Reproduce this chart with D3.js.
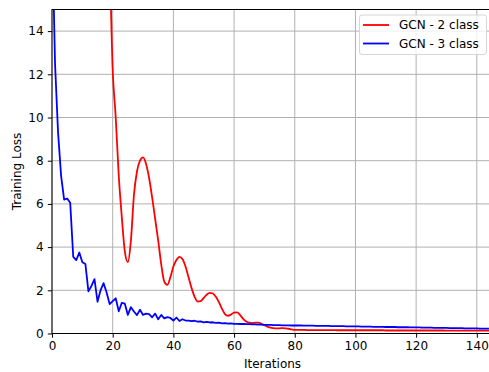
<!DOCTYPE html>
<html lang="en">
<head>
<meta charset="UTF-8">
<title>Training Loss</title>
<script src="https://d3js.org/d3.v7.min.js"></script>
<style>
    body { margin: 0; background: #fff; }
    svg { display: block; font-family: "DejaVu Sans", sans-serif; }
    .tick text { font-size: 12px; fill: #000; }
</style>
</head>
<body>
<svg id="chart" width="489" height="372"></svg>
<script>
// loss per iteration
const gcn2 = [
    95, 80, 70, 62, 56, 50, 46, 42, 39, 36, 33, 31, 29, 27, 25, 23.5, 22, 20.5, 18.5, 17,
    12.2, 10, 7.3, 5.4, 3.8, 3.3, 4.3, 6.4, 7.5, 8.0,
    8.15, 7.85, 7.2, 6.3, 5.3, 4.3, 3.2, 2.4, 2.25, 2.6,
    3.1, 3.4, 3.55, 3.45, 3.1, 2.6, 2.1, 1.7, 1.48, 1.5,
    1.65, 1.8, 1.88, 1.85, 1.7, 1.45, 1.15, 0.9, 0.82, 0.88,
    0.97, 0.98, 0.85, 0.68, 0.56, 0.5, 0.48, 0.5, 0.5, 0.45,
    0.38, 0.32, 0.27, 0.25, 0.24, 0.24, 0.25, 0.24, 0.22, 0.19,
    0.17, 0.17, 0.17, 0.17, 0.16, 0.16, 0.16, 0.16, 0.16, 0.16,
    0.16, 0.16, 0.16, 0.16, 0.15, 0.15, 0.15, 0.15, 0.15, 0.15,
    0.15, 0.15, 0.15, 0.15, 0.15, 0.15, 0.15, 0.15, 0.15, 0.15,
    0.14, 0.14, 0.14, 0.14, 0.14, 0.14, 0.14, 0.14, 0.14, 0.14,
    0.14, 0.14, 0.14, 0.14, 0.14, 0.14, 0.14, 0.14, 0.14, 0.14,
    0.13, 0.13, 0.13, 0.13, 0.13, 0.13, 0.13, 0.13, 0.13, 0.13,
    0.13, 0.13, 0.13, 0.13, 0.13, 0.13, 0.13, 0.13, 0.13, 0.13,
    0.13, 0.13, 0.13, 0.13, 0.13
];
const gcn3 = [
    19, 12.5, 9.3, 7.3, 6.2, 6.25, 6.05, 3.55, 3.4, 3.75,
    3.3, 3.22, 1.95, 2.2, 2.52, 1.47, 2.0, 2.33, 1.9, 1.36,
    1.5, 1.63, 1.03, 1.42, 1.38, 0.86, 1.22, 1.02, 0.85, 1.1,
    0.86, 0.92, 0.9, 0.75, 0.92, 0.66, 0.86, 0.7, 0.76, 0.72,
    0.6, 0.74, 0.58, 0.66, 0.6, 0.6, 0.57, 0.59, 0.55, 0.56,
    0.52, 0.54, 0.51, 0.52, 0.49, 0.5, 0.47, 0.48, 0.46, 0.47,
    0.45, 0.45, 0.44, 0.44, 0.43, 0.43, 0.42, 0.42, 0.41, 0.41,
    0.40, 0.40, 0.40, 0.39, 0.39, 0.39, 0.38, 0.38, 0.38, 0.37,
    0.37, 0.37, 0.37, 0.36, 0.36, 0.36, 0.36, 0.35, 0.35, 0.35,
    0.35, 0.35, 0.34, 0.34, 0.34, 0.34, 0.34, 0.33, 0.33, 0.33,
    0.33, 0.33, 0.32, 0.32, 0.32, 0.32, 0.31, 0.31, 0.31, 0.31,
    0.30, 0.30, 0.30, 0.30, 0.29, 0.29, 0.29, 0.29, 0.28, 0.28,
    0.28, 0.28, 0.27, 0.27, 0.27, 0.27, 0.26, 0.26, 0.26, 0.26,
    0.26, 0.25, 0.25, 0.25, 0.25, 0.25, 0.24, 0.24, 0.24, 0.24,
    0.24, 0.23, 0.23, 0.23, 0.23
];
const seriesNames = ["GCN - 2 class", "GCN - 3 class"];
const seriesColors = ["#ff0000", "#0000ff"];
const xTicks = [0, 20, 40, 60, 80, 100, 120, 140];
const yTicks = [0, 2, 4, 6, 8, 10, 12, 14];

const svg = d3.select("#chart");
const plotLeft = 52, plotTop = 9.5, plotBottom = 333.5, plotRight = 492;

const x = d3.scaleLinear().domain([0, 145]).range([plotLeft, plotRight]);
const y = d3.scaleLinear().domain([0, 15]).range([plotBottom, plotTop]);

svg.append("clipPath").attr("id", "plotclip")
    .append("rect")
    .attr("x", plotLeft).attr("y", plotTop)
    .attr("width", plotRight - plotLeft).attr("height", plotBottom - plotTop);

// grid
svg.append("g").selectAll("line").data(xTicks).join("line")
    .attr("x1", d => x(d)).attr("x2", d => x(d))
    .attr("y1", plotTop).attr("y2", plotBottom)
    .attr("stroke", "#b0b0b0").attr("stroke-width", 1);
svg.append("g").selectAll("line").data(yTicks).join("line")
    .attr("x1", plotLeft).attr("x2", plotRight)
    .attr("y1", d => y(d)).attr("y2", d => y(d))
    .attr("stroke", "#b0b0b0").attr("stroke-width", 1);

// lines
const series = [gcn2, gcn3];
const line = d3.line().x((d, i) => x(i)).y(d => y(d));
const g = svg.append("g").attr("clip-path", "url(#plotclip)");
series.forEach((vals, k) => {
    g.append("path")
        .attr("fill", "none")
        .attr("stroke", seriesColors[k])
        .attr("stroke-width", 1.8)
        .attr("stroke-linejoin", "round")
        .attr("d", line.curve(k === 0 ? d3.curveMonotoneX : d3.curveLinear)(vals));
});

// axes
const xAxis = svg.append("g")
    .attr("transform", `translate(0,${plotBottom})`)
    .call(d3.axisBottom(x).tickValues(xTicks).tickSize(4.2).tickPadding(4.2));
const yAxis = svg.append("g")
    .attr("transform", `translate(${plotLeft},0)`)
    .call(d3.axisLeft(y).tickValues(yTicks).tickSize(4.2).tickPadding(4.2));
[xAxis, yAxis].forEach(a => {
    a.select(".domain").remove();
    a.selectAll(".tick line").attr("stroke", "#000").attr("stroke-width", 1);
    a.selectAll(".tick text").attr("font-family", "DejaVu Sans").attr("font-size", 12);
});

// frame
svg.append("rect")
    .attr("x", plotLeft).attr("y", plotTop)
    .attr("width", plotRight - plotLeft).attr("height", plotBottom - plotTop)
    .attr("fill", "none").attr("stroke", "#000").attr("stroke-width", 1);

// axis labels
svg.append("text")
    .attr("x", (plotLeft + 489) / 2 + 2).attr("y", 368)
    .attr("text-anchor", "middle")
    .attr("font-size", 12)
    .text("Iterations");
svg.append("text")
    .attr("transform", `translate(21,${(plotTop + plotBottom) / 2}) rotate(-90)`)
    .attr("text-anchor", "middle")
    .attr("font-size", 12)
    .text("Training Loss");

// legend
const lg = svg.append("g");
lg.append("rect")
    .attr("x", 359.5).attr("y", 15).attr("width", 127).attr("height", 39.5)
    .attr("rx", 2.5)
    .attr("fill", "#fff").attr("fill-opacity", 0.8)
    .attr("stroke", "#d6d6d6").attr("stroke-width", 1);
seriesNames.forEach((name, i) => {
    const cy = 25 + i * 18.5;
    lg.append("line")
        .attr("x1", 363).attr("x2", 389)
        .attr("y1", cy).attr("y2", cy)
        .attr("stroke", seriesColors[i]).attr("stroke-width", 1.8);
    lg.append("text")
        .attr("x", 399).attr("y", cy + 4.3)
        .attr("font-size", 12)
        .text(name);
});
</script>
</body>
</html>
